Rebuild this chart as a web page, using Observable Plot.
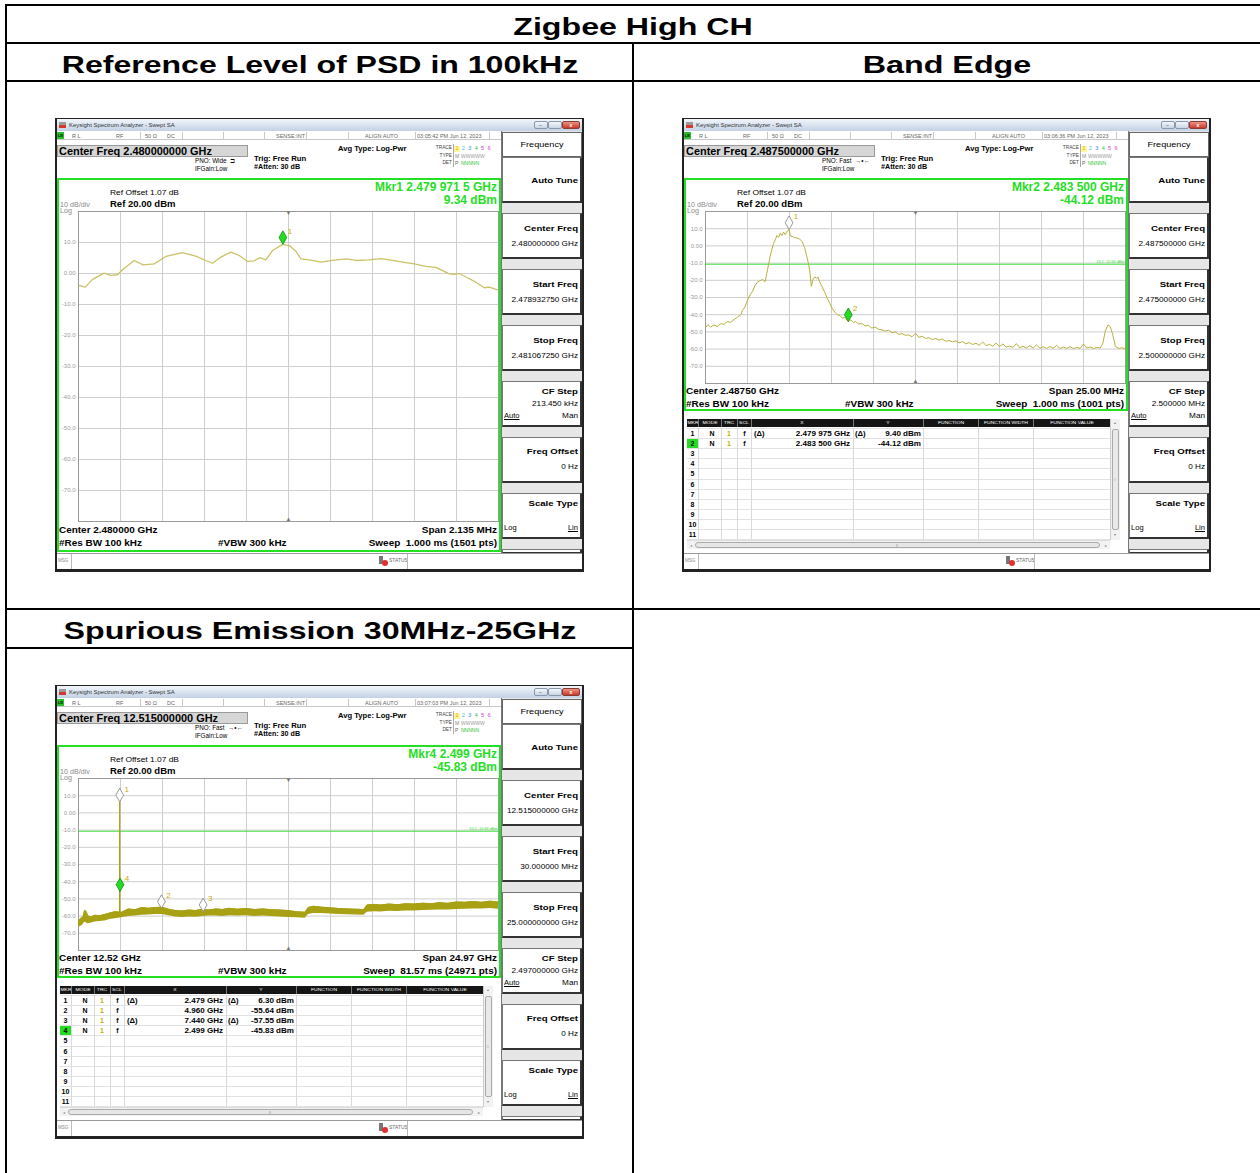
<!DOCTYPE html>
<html><head><meta charset="utf-8">
<script src="https://cdn.jsdelivr.net/npm/d3@7"></script>
<script src="https://cdn.jsdelivr.net/npm/@observablehq/plot@0.6"></script>
<style>
body{margin:0;background:#fff;font-family:"Liberation Sans",Arial,sans-serif;}
#page{position:relative;width:1260px;height:1173px;overflow:hidden;background:#fff;}
</style></head><body><div id="page"></div>
<script>
// ================= DATA =================
const pageTitle = "Zigbee High CH";
const cellTitles = ["Reference Level of PSD in 100kHz", "Band Edge", "Spurious Emission 30MHz-25GHz"];

const levelDomain = [-80, 20];
const levelTicks = [10, 0, -10, -20, -30, -40, -50, -60, -70];

// PSD (frequency MHz, level dBm)
const psdSpan = [2478.93275, 2481.06725];
const psdFreq = [2478.936, 2478.967, 2479.004, 2479.063, 2479.097, 2479.131, 2479.156, 2479.216, 2479.261, 2479.317, 2479.377, 2479.461, 2479.529, 2479.580, 2479.614, 2479.656, 2479.707, 2479.750, 2479.792, 2479.826, 2479.855, 2479.885, 2479.919, 2479.970, 2480.004, 2480.037, 2480.063, 2480.105, 2480.165, 2480.224, 2480.292, 2480.343, 2480.410, 2480.470, 2480.529, 2480.580, 2480.639, 2480.698, 2480.749, 2480.817, 2480.842, 2480.868, 2480.919, 2480.952, 2480.995, 2481.020, 2481.063];
const psdLevel = [-3.9, -4.4, -1.9, 0.1, -0.6, -0.4, 1.2, 4.2, 2.8, 3.1, 5.5, 6.7, 5.6, 4.2, 3.3, 5.3, 6.9, 5.8, 3.9, 4.1, 5.1, 4.4, 7.4, 9.4, 9.0, 7.2, 4.7, 4.4, 3.7, 4.2, 4.7, 4.2, 4.4, 4.8, 4.2, 3.7, 3.1, 2.3, 2.0, -0.1, -0.3, 0.0, -1.7, -2.8, -4.6, -4.4, -5.3];
const psdMarkerNo = ["1"];
const psdMarkerFreq = [2479.9715];
const psdMarkerLevel = [9.34];
const psdMarkerActive = [true];

// Band edge (frequency MHz, level dBm)
const bandSpan = [2475.0, 2500.0];
const bandTrace = [
 [2475.00,-47.5],[2475.15,-45.8],[2475.30,-47.2],[2475.50,-46.0],[2475.70,-46.8],[2475.90,-45.2],[2476.10,-45.6],[2476.30,-44.0],
 [2476.50,-44.4],[2476.70,-42.8],[2476.90,-41.5],[2477.10,-40.0],[2477.20,-37.5],[2477.35,-35.5],[2477.50,-31.5],[2477.65,-28.5],
 [2477.80,-26.5],[2477.95,-23.0],[2478.10,-21.0],[2478.25,-20.2],[2478.40,-19.5],[2478.55,-20.8],[2478.65,-16.0],[2478.75,-11.0],
 [2478.85,-6.0],[2478.95,-2.0],[2479.05,1.5],[2479.15,3.5],[2479.25,6.0],[2479.35,5.0],[2479.45,7.5],[2479.55,6.0],
 [2479.65,8.0],[2479.75,6.5],[2479.85,8.5],[2479.975,9.4],[2480.05,5.8],[2480.15,5.5],[2480.30,4.8],[2480.45,4.6],
 [2480.60,4.0],[2480.75,2.5],[2480.90,-1.0],[2481.00,-5.0],[2481.10,-9.0],[2481.20,-14.0],[2481.30,-23.5],[2481.40,-19.5],
 [2481.50,-18.0],[2481.60,-18.8],[2481.70,-18.2],[2481.80,-21.0],[2481.95,-24.0],[2482.10,-27.0],[2482.25,-30.5],[2482.40,-33.5],
 [2482.55,-36.5],[2482.70,-38.5],[2482.85,-40.0],[2483.00,-40.5],[2483.15,-42.0],[2483.30,-41.5],[2483.50,-44.1],[2483.65,-43.0],
 [2483.80,-44.5],[2483.95,-44.0],[2484.10,-45.5],[2484.30,-45.0],[2484.50,-46.5],[2484.70,-46.2],[2484.90,-47.8],[2485.10,-47.2],
 [2485.30,-48.5],[2485.50,-48.8],[2485.70,-49.5],[2485.90,-49.0],[2486.10,-50.5],[2486.30,-50.0],[2486.50,-51.5],[2486.70,-51.0],
 [2486.90,-52.0],[2487.10,-51.8],[2487.30,-52.8],[2487.50,-50.8],[2487.70,-53.2],[2487.90,-52.5],[2488.10,-53.8],[2488.30,-53.4],
 [2488.50,-54.5],[2488.70,-53.8],[2488.90,-54.8],[2489.10,-54.2],[2489.30,-55.5],[2489.50,-55.0],[2489.70,-55.8],[2489.90,-55.2],
 [2490.10,-56.4],[2490.30,-55.6],[2490.50,-57.0],[2490.70,-56.2],[2490.90,-57.3],[2491.10,-56.6],[2491.30,-57.8],[2491.50,-55.8],
 [2491.70,-58.0],[2491.90,-57.2],[2492.10,-58.3],[2492.30,-56.5],[2492.50,-58.5],[2492.70,-57.0],[2492.90,-58.8],[2493.10,-58.2],
 [2493.30,-59.0],[2493.50,-56.8],[2493.70,-59.2],[2493.90,-58.4],[2494.10,-59.3],[2494.30,-58.0],[2494.50,-59.4],[2494.70,-57.5],
 [2494.90,-59.5],[2495.10,-58.6],[2495.30,-59.6],[2495.50,-58.5],[2495.70,-59.5],[2495.90,-57.8],[2496.10,-59.6],[2496.30,-58.8],
 [2496.50,-59.6],[2496.70,-58.6],[2496.90,-59.7],[2497.10,-59.0],[2497.30,-59.6],[2497.50,-57.0],[2497.70,-59.3],[2497.90,-58.8],
 [2498.10,-59.6],[2498.30,-59.0],[2498.50,-59.4],[2498.65,-56.5],[2498.80,-49.5],[2498.95,-46.0],[2499.10,-47.0],[2499.25,-52.0],
 [2499.40,-58.5],[2499.60,-59.6],[2499.80,-59.2],[2500.00,-60.0]
];
const bandDisplayLine = -10.66;
const bandMarkerNo = ["1", "2"];
const bandMarkerFreq = [2479.975, 2483.5];
const bandMarkerLevel = [9.40, -44.12];
const bandMarkerActive = [false, true];
const bandTableRows = [
 ["1","N","1","f","(Δ)","2.479 975 GHz","(Δ)","9.40 dBm"],
 ["2","N","1","f","","2.483 500 GHz","","-44.12 dBm"]
];

// Spurious (frequency GHz, upper / lower envelope dBm)
const spurSpan = [0.03, 25.0];
const spurBand = [
 [0.03,-62.5,-66.5],[0.15,-61.5,-66.0],[0.30,-60.5,-65.0],[0.40,-56.5,-63.5],[0.50,-57.5,-64.0],[0.60,-60.0,-64.5],
 [0.80,-60.5,-64.0],[1.00,-59.5,-63.5],[1.30,-59.8,-63.2],[1.60,-59.0,-62.8],[1.90,-58.2,-62.0],[2.20,-57.5,-61.5],
 [2.60,-57.8,-61.0],[3.00,-55.8,-60.2],[3.40,-56.3,-60.0],[3.80,-55.0,-59.5],[4.20,-55.5,-59.3],[4.60,-55.0,-59.0],
 [5.00,-54.8,-59.0],[5.40,-56.0,-59.8],[5.80,-56.8,-60.5],[6.20,-57.0,-60.8],[6.60,-56.5,-60.5],[7.00,-56.8,-60.6],
 [7.40,-56.0,-60.2],[7.80,-56.5,-60.0],[8.20,-55.8,-60.0],[8.60,-56.2,-60.3],[9.00,-55.5,-59.8],[9.50,-56.0,-60.0],
 [10.00,-55.6,-59.8],[10.50,-56.2,-60.2],[11.00,-55.8,-60.0],[11.50,-56.3,-60.3],[12.00,-56.5,-60.5],[12.50,-56.8,-60.8],
 [13.00,-57.5,-61.0],[13.50,-57.8,-61.2],[13.70,-55.0,-59.0],[14.00,-54.3,-58.5],[14.50,-54.8,-58.5],[15.00,-55.2,-58.8],
 [15.50,-55.6,-59.0],[16.00,-55.8,-59.2],[16.50,-56.0,-59.3],[17.00,-56.2,-59.5],[17.20,-53.5,-57.8],[17.60,-53.2,-57.5],
 [18.00,-53.6,-57.6],[18.50,-53.0,-57.2],[19.00,-53.4,-57.3],[19.50,-52.8,-57.0],[20.00,-53.0,-57.0],[20.50,-52.5,-56.8],
 [21.00,-52.8,-56.6],[21.50,-52.2,-56.5],[22.00,-52.6,-56.4],[22.50,-51.8,-56.2],[23.00,-52.0,-56.0],[23.50,-51.5,-55.8],
 [24.00,-52.0,-55.8],[24.50,-51.3,-55.6],[25.00,-51.8,-56.0]
];
const spurSpike = [[2.470,-58.0],[2.479,6.30],[2.488,-58.0]];
const spurDisplayLine = -10.66;
const spurMarkerNo = ["1", "2", "3", "4"];
const spurMarkerFreq = [2.479, 4.960, 7.440, 2.499];
const spurMarkerLevel = [6.30, -55.64, -57.55, -45.83];
const spurMarkerActive = [false, false, false, true];
const spurTableRows = [
 ["1","N","1","f","(Δ)","2.479 GHz","(Δ)","6.30 dBm"],
 ["2","N","1","f","","4.960 GHz","","-55.64 dBm"],
 ["3","N","1","f","(Δ)","7.440 GHz","(Δ)","-57.55 dBm"],
 ["4","N","1","f","","2.499 GHz","","-45.83 dBm"]
];

// Instrument screen texts
const screenTimes = ["03:05:42 PM Jun 12, 2023", "03:06:36 PM Jun 12, 2023", "03:07:03 PM Jun 12, 2023"];
const screenCenterFreq = ["Center Freq 2.480000000 GHz", "Center Freq 2.487500000 GHz", "Center Freq 12.515000000 GHz"];
const screenPno = ["PNO: Wide", "PNO: Fast", "PNO: Fast"];
const screenMkr = [["Mkr1 2.479 971 5 GHz", "9.34 dBm"], ["Mkr2 2.483 500 GHz", "-44.12 dBm"], ["Mkr4 2.499 GHz", "-45.83 dBm"]];
const screenSoft = [
 ["2.480000000 GHz", "2.478932750 GHz", "2.481067250 GHz", "213.450 kHz"],
 ["2.487500000 GHz", "2.475000000 GHz", "2.500000000 GHz", "2.500000 MHz"],
 ["12.515000000 GHz", "30.000000 MHz", "25.000000000 GHz", "2.497000000 GHz"]
];
const screenBottom = [
 ["Center 2.480000 GHz", "Span 2.135 MHz", "Sweep  1.000 ms (1501 pts)"],
 ["Center 2.48750 GHz", "Span 25.00 MHz", "Sweep  1.000 ms (1001 pts)"],
 ["Center 12.52 GHz", "Span 24.97 GHz", "Sweep  81.57 ms (24971 pts)"]
];
const tableHeaders = ["MKR", "MODE", "TRC", "SCL", "X", "Y", "FUNCTION", "FUNCTION WIDTH", "FUNCTION VALUE"];

// ================= HELPERS =================
const FONT = '"Liberation Sans", Arial, sans-serif';
const page = document.getElementById("page");
function div(parent, x, y, w, h, style) {
  const d = document.createElement("div");
  d.style.position = "absolute";
  d.style.left = x + "px"; d.style.top = y + "px";
  if (w != null) d.style.width = w + "px";
  if (h != null) d.style.height = h + "px";
  d.style.boxSizing = "border-box";
  Object.assign(d.style, style || {});
  parent.appendChild(d);
  return d;
}
function txt(parent, x, base, s, o = {}) {
  const fs = o.size || 7;
  const d = document.createElement("div");
  d.textContent = s;
  const st = d.style;
  st.position = "absolute"; st.whiteSpace = "pre";
  st.fontSize = fs + "px"; st.lineHeight = fs + "px";
  st.fontFamily = FONT; st.fontWeight = o.weight || "normal";
  st.color = o.color || "#000";
  st.top = (base - 0.847 * fs) + "px";
  const W = 700;
  if (o.align === "right") { st.left = (x - W) + "px"; st.width = W + "px"; st.textAlign = "right"; }
  else if (o.align === "center") { st.left = (x - W / 2) + "px"; st.width = W + "px"; st.textAlign = "center"; }
  else st.left = x + "px";
  if (o.sx) { st.transform = `scaleX(${o.sx})`; st.transformOrigin = o.align === "right" ? "right" : o.align === "center" ? "center" : "left"; }
  if (o.underline) st.textDecoration = "underline";
  parent.appendChild(d);
  return d;
}

// ================= TABLE FRAME =================
const B = "#000";
div(page, 5, 4, 1260, 2, {background: B});
div(page, 5, 4, 2, 1173, {background: B});
div(page, 5, 42, 1260, 2, {background: B});
div(page, 5, 80, 1260, 2, {background: B});
div(page, 632, 42, 2, 1140, {background: B});
div(page, 5, 608, 1260, 2, {background: B});
div(page, 5, 647, 628, 2, {background: B});
txt(page, 633, 35, pageTitle, {size: 24, weight: "bold", align: "center", sx: 1.34});
txt(page, 319.5, 73, cellTitles[0], {size: 24, weight: "bold", align: "center", sx: 1.335});
txt(page, 947, 73, cellTitles[1], {size: 24, weight: "bold", align: "center", sx: 1.345});
txt(page, 319.5, 639, cellTitles[2], {size: 24, weight: "bold", align: "center", sx: 1.34});

// ================= PLOT =================
function spectrumPlot({span, height, lineData, bandData, spike, dl, mNo, mF, mL, mA, traceColor, traceWidth}) {
  const [x0, x1] = span;
  const xGrid = d3.range(11).map(i => x0 + (x1 - x0) * i / 10);
  const yGrid = d3.range(levelDomain[0], levelDomain[1] + 1, 10);
  const markers = mNo.map((n, i) => ({n, f: mF[i], l: mL[i], a: mA[i]}));
  const marks = [
    Plot.ruleX(xGrid, {stroke: "#cecece", strokeWidth: 1}),
    Plot.ruleY(yGrid, {stroke: "#cecece", strokeWidth: 1}),
    Plot.frame({stroke: "#9a9a9a"})
  ];
  if (dl != null) {
    marks.push(Plot.ruleY([dl], {stroke: "#2fdc2f", strokeWidth: 0.9}));
    marks.push(Plot.text([dl], {x: x1, y: d => d, text: d => `DL1 ${d.toFixed(2)} dBm`, textAnchor: "end", dx: -1, dy: -2.5, fontSize: 3.8, fill: "#2fdc2f"}));
  }
  marks.push(Plot.text([(x0 + x1) / 2], {x: d => d, y: levelDomain[1], text: () => "▼", dy: 2, fontSize: 6, fill: "#777"}));
  marks.push(Plot.text([(x0 + x1) / 2], {x: d => d, y: levelDomain[0], text: () => "▲", dy: -2, fontSize: 6, fill: "#777"}));
  if (bandData) {
    marks.push(Plot.areaY(bandData, {x: d => d[0], y1: d => d[2], y2: d => d[1], fill: traceColor, fillOpacity: 1}));
    marks.push(Plot.line(bandData, {x: d => d[0], y: d => d[1], stroke: traceColor, strokeWidth: 1}));
  }
  if (spike) marks.push(Plot.line(spike, {x: d => d[0], y: d => d[1], stroke: traceColor, strokeWidth: 1.2}));
  if (lineData) marks.push(Plot.line(lineData, {x: d => d[0], y: d => d[1], stroke: traceColor, strokeWidth: traceWidth}));
  marks.push(Plot.dot(markers, {x: "f", y: "l", symbol: "diamond", r: 4.1, dy: -7,
    fill: d => d.a ? "#22dd22" : "#ffffff", stroke: d => d.a ? "#138a13" : "#808080", strokeWidth: 0.8}));
  marks.push(Plot.text(markers, {x: "f", y: "l", text: "n", dx: 7, dy: -13, fontSize: 8, fill: "#c4ae00"}));
  const svg = Plot.plot({
    width: 442, height, marginLeft: 21, marginRight: 1, marginTop: 5, marginBottom: 5,
    x: {domain: span, axis: null},
    y: {domain: levelDomain, ticks: levelTicks, tickFormat: d => d === 0 ? "0.00" : d.toFixed(1), tickSize: 0, tickPadding: 3, label: null},
    style: {fontSize: "6px", fontFamily: FONT, color: "#9a9a9a", background: "transparent", overflow: "visible"},
    marks
  });
  return svg;
}

// ================= SCREEN =================
function softkeys(s, vals) {
  div(s, 446, 13, 81, 422, {background: "#e6e6e6", borderLeft: "1px solid #777"});
  div(s, 447, 14, 80, 25, {background: "#fff", border: "1px solid #666"});
  txt(s, 487, 29, "Frequency", {size: 7, align: "center", sx: 1.3});
  const labels = ["Auto Tune", "Center Freq", "Start Freq", "Stop Freq", "CF Step", "Freq Offset", "Scale Type", ""];
  const L = {size: 8, weight: "bold", align: "right", sx: 1.2};
  const V = {size: 6.3, align: "right", sx: 1.3};
  labels.forEach((lab, k) => {
    const top = 39 + 56 * k;
    const h = k === 7 ? 5 : 46;
    div(s, 447, top, 80, h, {background: "#fff", borderTop: "1px solid #777", borderLeft: "1px solid #777", borderRight: "2px solid #333", borderBottom: "2px solid #333"});
    if (k === 0) txt(s, 523, top + 27, lab, L);
    if (k >= 1 && k <= 3) { txt(s, 523, top + 19, lab, L); txt(s, 523, top + 33, vals[k - 1], V); }
    if (k === 4) { txt(s, 523, top + 14, lab, L); txt(s, 523, top + 25, vals[3], V);
      txt(s, 449, top + 37, "Auto", {size: 6.3, underline: true, sx: 1.2}); txt(s, 523, top + 37, "Man", V); }
    if (k === 5) { txt(s, 523, top + 18, lab, L); txt(s, 523, top + 32, "0 Hz", V); }
    if (k === 6) { txt(s, 523, top + 14, lab, L);
      txt(s, 449, top + 37, "Log", {size: 6.3, sx: 1.2}); txt(s, 523, top + 37, "Lin", {size: 6.3, align: "right", underline: true, sx: 1.2}); }
  });
}

function markerTable(s, rows, activeIdx) {
  const colX = [5, 16, 39, 55, 69, 171, 241, 296, 351, 428];
  div(s, 3, 299, 437, 134, {background: "#fff"});
  div(s, 5, 301, 423, 8, {background: "#151515"});
  tableHeaders.forEach((h, i) => {
    if (i > 0) div(s, colX[i], 301, 1, 8, {background: "#777"});
    txt(s, (colX[i] + colX[i + 1]) / 2, 307, h, {size: 4.4, color: "#fff", align: "center", sx: 1.15});
  });
  for (let r = 0; r <= 11; r++) div(s, 5, 310 + r * 10.1, 423, 1, {background: "#e2e2e2"});
  for (let i = 1; i < colX.length - 1; i++) div(s, colX[i], 310, 1, 111, {background: "#dadada"});
  const R = {size: 7, weight: "bold"};
  for (let r = 0; r < 11; r++) {
    const top = 310 + r * 10.1;
    const row = rows[r];
    if (r === activeIdx) div(s, 5, top + 1, 11, 9.1, {background: "#22dd22"});
    txt(s, 10.5, top + 8, String(r + 1), {...R, align: "center"});
    if (row) {
      txt(s, 30, top + 8, row[1], {...R, align: "center"});
      txt(s, 47, top + 8, row[2], {...R, align: "center", color: "#c4ae00"});
      txt(s, 62.5, top + 8, row[3], {...R, align: "center"});
      txt(s, 72, top + 8, row[4], {...R, sx: 1.1});
      txt(s, 168, top + 8, row[5], {...R, align: "right", sx: 1.15});
      txt(s, 173, top + 8, row[6], {...R, sx: 1.1});
      txt(s, 239, top + 8, row[7], {...R, align: "right", sx: 1.15});
    }
  }
  // vertical scrollbar
  div(s, 428, 301, 10, 121, {background: "#f2f2f2", borderLeft: "1px solid #ccc"});
  txt(s, 433, 307, "▲", {size: 3.5, color: "#888", align: "center"});
  div(s, 429.5, 311, 7, 101, {background: "#e9e9e9", border: "1px solid #aaa", borderRadius: "2px"});
  txt(s, 433, 363, "≡", {size: 4, color: "#999", align: "center"});
  txt(s, 433, 419, "▼", {size: 3.5, color: "#888", align: "center"});
  // horizontal scrollbar
  div(s, 5, 422, 423, 9, {background: "#f2f2f2", borderTop: "1px solid #ddd"});
  txt(s, 8, 429, "◂", {size: 4, color: "#888"});
  div(s, 13, 423.5, 405, 6, {background: "#e6e6e6", border: "1px solid #aaa", borderRadius: "3px"});
  txt(s, 215, 429, "⦀", {size: 4, color: "#999", align: "center"});
  txt(s, 424, 429, "▸", {size: 4, color: "#888", align: "center"});
}

function buildScreen(ox, oy, i, kind, plotSvg, rows, activeIdx) {
  const s = div(page, ox, oy, 529, 454, {background: "#222", overflow: "hidden"});
  // title bar
  div(s, 2, 1, 525, 12, {background: "linear-gradient(#f2f6fb,#c3d1e5)"});
  div(s, 4, 4, 7, 6, {background: "linear-gradient(#9a9a9a 45%, #d23a2a 45%)"});
  txt(s, 14, 9.5, "Keysight Spectrum Analyzer - Swept SA", {size: 5.5, color: "#333", sx: 1.08});
  div(s, 479, 3, 14, 8, {background: "linear-gradient(#f4f7fb,#c9d5e5)", border: "1px solid #8a98ad", borderRadius: "2px"});
  div(s, 493, 3, 14, 8, {background: "linear-gradient(#f4f7fb,#c9d5e5)", border: "1px solid #8a98ad", borderRadius: "2px"});
  div(s, 507, 3, 18, 8, {background: "linear-gradient(#ee9484,#c8382a)", border: "1px solid #8a3a30", borderRadius: "2px"});
  txt(s, 485.5, 9.5, "–", {size: 5, color: "#345", align: "center"});
  txt(s, 516, 9.5, "x", {size: 5, color: "#fff", align: "center", weight: "bold"});
  // body
  div(s, 2, 13, 525, 422, {background: "#fff"});
  // status row
  div(s, 2, 14, 444, 8, {borderBottom: "1px solid #c8c8c8"});
  div(s, 2, 14, 7, 7, {background: "#2bbf2b"});
  txt(s, 5.5, 19.8, "LXI", {size: 3.2, weight: "bold", align: "center"});
  [85, 127, 168, 209, 251, 293, 360, 434].forEach(x => div(s, x, 14, 1, 8, {background: "#c8c8c8"}));
  const st = {size: 5, color: "#666", sx: 1.1};
  txt(s, 17, 20, "R L", st); txt(s, 61, 20, "RF", st); txt(s, 90, 20, "50 Ω", st); txt(s, 112, 20, "DC", st);
  txt(s, 221, 20, "SENSE:INT", st); txt(s, 310, 20, "ALIGN AUTO", st); txt(s, 362, 20, screenTimes[i], st);
  // header info
  div(s, 2, 27, 191, 12, {background: "#d6d6d6", border: "1px solid #9a9a9a"});
  txt(s, 4, 36.5, screenCenterFreq[i], {size: 10.5, weight: "bold", sx: 1.04});
  txt(s, 140, 45.7, screenPno[i] + (i === 0 ? "  ⊐" : "  →•←"), {size: 6.3});
  txt(s, 140, 53, "IFGain:Low", {size: 6.3});
  txt(s, 199, 43, "Trig: Free Run", {size: 7, weight: "bold", sx: 1.1});
  txt(s, 199, 51.5, "#Atten: 30 dB", {size: 6.5, weight: "bold", sx: 1.1});
  txt(s, 283, 33.5, "Avg Type: Log-Pwr", {size: 6.5, weight: "bold", sx: 1.17});
  txt(s, 397, 32, "TRACE", {size: 4.8, color: "#444", align: "right"});
  txt(s, 397, 39.8, "TYPE", {size: 4.8, color: "#444", align: "right"});
  txt(s, 397, 47.5, "DET", {size: 4.8, color: "#444", align: "right"});
  div(s, 398, 26, 43, 23, {borderLeft: "1px solid #aaa"});
  div(s, 399, 27.5, 6, 6, {background: "#fff59a"});
  const dc = ["#e89a00", "#27c6d6", "#3d8cf0", "#3ec23e", "#d23ad2", "#d23ad2"];
  dc.forEach((c, k) => txt(s, 402 + k * 6.4, 32.5, String(k + 1), {size: 5.5, color: c, align: "center"}));
  txt(s, 400, 40, "M", {size: 5, color: "#888"});
  txt(s, 406, 40, "WWWWW", {size: 5, color: "#9a9a9a"});
  txt(s, 400, 47.7, "P", {size: 5, color: "#666"});
  txt(s, 406, 47.7, "NNNNN", {size: 5, color: "#2fbf2f"});
  // display area
  const gBottom = kind === "full" ? 434 : 292.5;
  div(s, 2, 59.5, 443.5, gBottom - 59.5, {border: "2px solid #22e022"});
  txt(s, 55, 77, "Ref Offset 1.07 dB", {size: 7, sx: 1.2});
  txt(s, 55, 89, "Ref 20.00 dBm", {size: 9.5, weight: "bold"});
  txt(s, 5, 89.3, "10 dB/div", {size: 6.5, color: "#8a8a8a", sx: 1.1});
  txt(s, 5, 95.5, "Log", {size: 6.5, color: "#8a8a8a", sx: 1.1});
  txt(s, 442, 73.5, screenMkr[i][0], {size: 12, weight: "bold", color: "#1fe01f", align: "right"});
  txt(s, 442, 86.5, screenMkr[i][1], {size: 12, weight: "bold", color: "#1fe01f", align: "right"});
  plotSvg.style.position = "absolute";
  plotSvg.style.left = "2px"; plotSvg.style.top = "88px";
  s.appendChild(plotSvg);
  const b1 = kind === "full" ? 415 : 276.5, b2 = kind === "full" ? 428 : 289.5;
  const BT = {size: 8.5, weight: "bold", sx: 1.17};
  txt(s, 4, b1, screenBottom[i][0], BT);
  txt(s, 442, b1, screenBottom[i][1], {...BT, align: "right"});
  txt(s, 4, b2, "#Res BW 100 kHz", BT);
  txt(s, 163, b2, "#VBW 300 kHz", BT);
  txt(s, 442, b2, screenBottom[i][2], {...BT, align: "right"});
  if (kind === "table") markerTable(s, rows, activeIdx);
  softkeys(s, screenSoft[i]);
  // message bar
  div(s, 2, 435, 525, 16, {background: "#fff", borderTop: "1px solid #999"});
  txt(s, 3, 445, "MSG", {size: 4.5, color: "#888"});
  div(s, 16, 436, 1, 15, {background: "#bbb"});
  div(s, 324, 438, 4, 8, {background: "#777"});
  div(s, 327, 442, 6, 6, {background: "#e03030", borderRadius: "50%"});
  txt(s, 334, 445, "STATUS", {size: 4.5, color: "#666", sx: 1.1});
  div(s, 352, 436, 1, 15, {background: "#bbb"});
  return s;
}

// ================= BUILD =================
const psdPlot = spectrumPlot({
  span: psdSpan, height: 320, lineData: psdFreq.map((f, k) => [f, psdLevel[k]]),
  mNo: psdMarkerNo, mF: psdMarkerFreq, mL: psdMarkerLevel, mA: psdMarkerActive,
  traceColor: "#cbc266", traceWidth: 1.3
});
buildScreen(55, 118, 0, "full", psdPlot);

const bandPlot = spectrumPlot({
  span: bandSpan, height: 182, lineData: bandTrace, dl: bandDisplayLine,
  mNo: bandMarkerNo, mF: bandMarkerFreq, mL: bandMarkerLevel, mA: bandMarkerActive,
  traceColor: "#b9b03c", traceWidth: 1
});
buildScreen(682, 118, 1, "table", bandPlot, bandTableRows, 1);

const spurPlot = spectrumPlot({
  span: spurSpan, height: 182, bandData: spurBand, spike: spurSpike, dl: spurDisplayLine,
  mNo: spurMarkerNo, mF: spurMarkerFreq, mL: spurMarkerLevel, mA: spurMarkerActive,
  traceColor: "#a8a114"
});
buildScreen(55, 685, 2, "table", spurPlot, spurTableRows, 3);
</script></body></html>
